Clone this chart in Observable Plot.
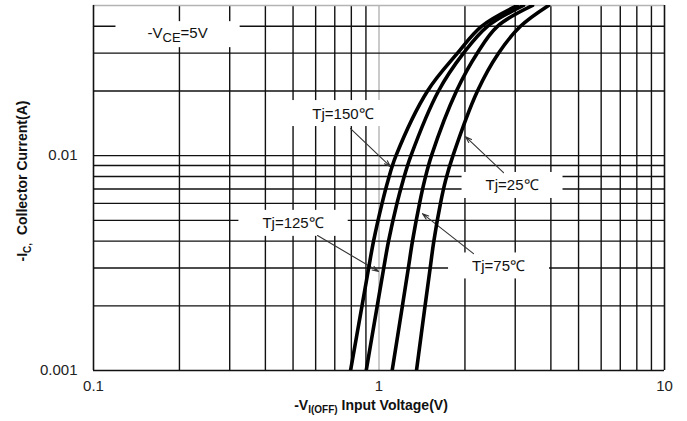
<!DOCTYPE html>
<html><head><meta charset="utf-8">
<script src="https://cdn.jsdelivr.net/npm/d3@7"></script>
<script src="https://cdn.jsdelivr.net/npm/@observablehq/plot@0.6"></script>
<style>html,body{margin:0;padding:0;background:#fff}svg{display:block}</style>
</head><body><div id="chart"></div>
<script>
// Collector current levels (A) at which the curves were read
const currents = [0.001, 0.002, 0.003, 0.004, 0.006, 0.00765, 0.01, 0.02, 0.03, 0.04, 0.05];
// Input voltage (V) for each junction temperature
const vTj150 = [0.795, 0.872, 0.920, 0.957, 1.025, 1.075, 1.147, 1.479, 1.883, 2.286, 3.055];
const vTj125 = [0.902, 0.986, 1.039, 1.080, 1.156, 1.214, 1.294, 1.616, 1.977, 2.399, 3.208];
const vTj75  = [1.112, 1.208, 1.267, 1.310, 1.387, 1.444, 1.527, 1.868, 2.208, 2.600, 3.450];
const vTj25  = [1.353, 1.450, 1.511, 1.556, 1.642, 1.710, 1.816, 2.213, 2.622, 3.130, 3.925];
const seriesNames = ["Tj=150℃", "Tj=125℃", "Tj=75℃", "Tj=25℃"];
const seriesValues = [vTj150, vTj125, vTj75, vTj25];

// Axes / grid
const xTickLabels = [0.1, 1, 10];
const yTickLabels = [0.001, 0.01];
const xGridDark = [0.2, 0.3, 0.4, 0.5, 0.6, 0.7, 0.8, 0.9, 2, 3, 4, 5, 6, 7, 8, 9];
const xGridLight = [1];
const yGrid = [0.002, 0.003, 0.004, 0.005, 0.006, 0.007, 0.008, 0.009, 0.01, 0.02, 0.03, 0.04];

// Annotations (data coordinates)
const labelTexts = ["-V_{CE}=5V", "Tj=150℃", "Tj=125℃", "Tj=25℃", "Tj=75℃"];
const labelV = [0.197, 0.748, 0.50, 2.924, 2.622];
const labelI = [0.0373, 0.01567, 0.00483, 0.00725, 0.00306];
const arrowFromV = [0.795, 0.609, 2.73, 2.143];
const arrowFromI = [0.01335, 0.00425, 0.00834, 0.0035];
const arrowToV = [1.097, 0.996, 2.01, 1.42];
const arrowToI = [0.00889, 0.00289, 0.01226, 0.00537];

const lineData = seriesNames.flatMap((name, k) => currents.map((c, i) => ({tj: name, v: seriesValues[k][i], i: c})));
const labels = labelTexts.map((t, k) => ({t: t.replace(/_\{(.*?)\}/, "$1"), raw: t, v: labelV[k], i: labelI[k]}));
const arrows = arrowFromV.map((v, k) => ({v1: v, i1: arrowFromI[k], v2: arrowToV[k], i2: arrowToI[k]}));

const W = 687, H = 421, ML = 93, MR = 23, MT = 5, MB = 51;
const FONT = "'Liberation Sans', Arial, sans-serif";
const grid = "#111";

const plot = Plot.plot({
  width: W, height: H,
  marginLeft: ML, marginRight: MR, marginTop: MT, marginBottom: MB,
  style: {fontFamily: FONT, fontSize: "15px", color: "#222", background: "#fff", overflow: "visible"},
  x: {type: "log", domain: [0.1, 10]},
  y: {type: "log", domain: [0.001, 0.05]},
  marks: [
    Plot.ruleX(xGridDark, {stroke: grid, strokeWidth: 1.4}),
    Plot.ruleX(xGridLight, {stroke: "#b4b4b4", strokeWidth: 1.4}),
    Plot.ruleY(yGrid, {stroke: grid, strokeWidth: 1.4}),
    Plot.ruleY([0.05], {stroke: "#b4b4b4", strokeWidth: 1.4}),
    Plot.ruleX([0.1, 10], {stroke: grid, strokeWidth: 1.6}),
    Plot.ruleY([0.001], {stroke: grid, strokeWidth: 1.6}),
    Plot.axisX(xTickLabels, {tickSize: 0, tickPadding: 10, tickFormat: d => String(d), fontSize: 15, fill: "#222", label: null}),
    Plot.axisY(yTickLabels, {tickSize: 0, tickPadding: 16, tickFormat: d => String(d), fontSize: 15, fill: "#222", label: null}),
    Plot.text(labels, {x: "v", y: "i", text: "t", fontSize: 15, fill: "#111"}),
    Plot.arrow(arrows, {x1: "v1", y1: "i1", x2: "v2", y2: "i2", stroke: "#333", strokeWidth: 1.1, headLength: 9, headAngle: 36}),
    Plot.line(lineData, {x: "v", y: "i", z: "tj", stroke: "#000", strokeWidth: 3.6, curve: "catmull-rom", clip: true})
  ]
});
document.getElementById("chart").appendChild(plot);

const svg = d3.select(plot);
// subscript in the V_CE label and white backgrounds behind annotation labels
svg.selectAll('g[aria-label="text"]').selectAll("text").each(function(_, k) {
  const raw = labels[k].raw;
  const m = raw.match(/^(.*?)_\{(.*?)\}(.*)$/);
  const el = d3.select(this);
  if (m) {
    el.text(null);
    el.append("tspan").text(m[1]);
    el.append("tspan").attr("font-size", 13).attr("dy", 4).text(m[2]);
    el.append("tspan").attr("dy", -4).text(m[3]);
  }
  const bb = this.getBBox();
  const padX = m ? 32 : 24, padY = 13;
  const cy = bb.y + bb.height / 2;
  d3.select(this.parentNode).insert("rect", () => this)
    .attr("transform", el.attr("transform"))
    .attr("x", bb.x - padX).attr("width", bb.width + 2 * padX)
    .attr("y", cy - padY).attr("height", 2 * padY)
    .attr("fill", "#fff").attr("stroke", "none");
});

// axis titles with subscripts
const xt = svg.append("text").attr("x", 371).attr("y", 410).attr("text-anchor", "middle")
  .attr("font-family", FONT).attr("font-weight", "bold").attr("font-size", 14).attr("fill", "#111");
xt.append("tspan").text("-V");
xt.append("tspan").attr("font-size", 10).attr("dy", 3).text("I(OFF)");
xt.append("tspan").attr("dy", -3).text(" Input Voltage(V)");

const yt = svg.append("text").attr("transform", "translate(27,181) rotate(-90)").attr("text-anchor", "middle")
  .attr("font-family", FONT).attr("font-weight", "bold").attr("font-size", 14).attr("fill", "#111");
yt.append("tspan").text("-I");
yt.append("tspan").attr("font-size", 10).attr("dy", 4).text("C,");
yt.append("tspan").attr("dy", -4).text("\u00a0\u00a0Collector Current(A)");
</script>
</body></html>
